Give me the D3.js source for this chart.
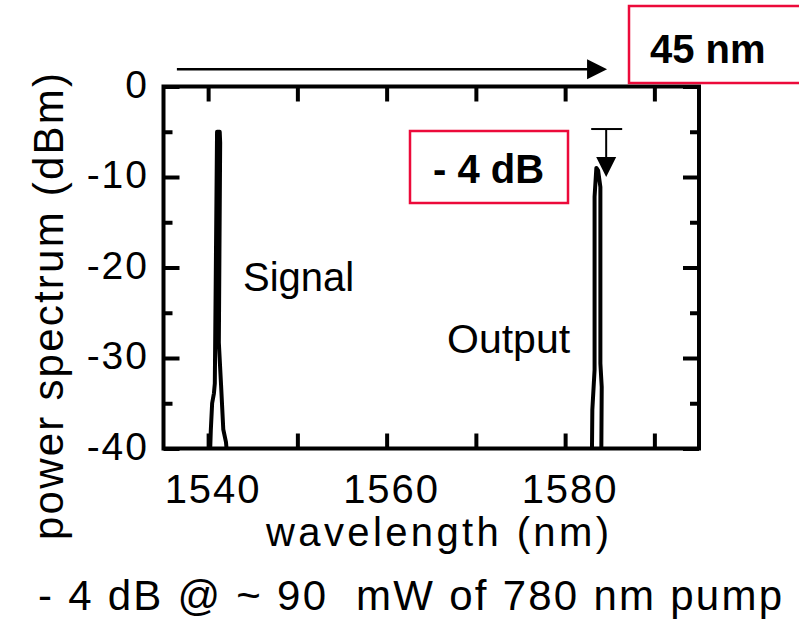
<!DOCTYPE html>
<html>
<head>
<meta charset="utf-8">
<script src="https://cdn.jsdelivr.net/npm/d3@7"></script>
<style>
  body { margin: 0; background: #fff; }
  svg { display: block; font-family: "Liberation Sans", Arial, sans-serif; }
</style>
</head>
<body>
<div id="container"></div>
<script>
// spectrum traces (wavelength nm, power dBm)
var signalWl  = [1540.2, 1540.3, 1540.45, 1540.65, 1540.75, 1541.0, 1541.3, 1541.35, 1541.2, 1541.45, 1541.7, 1542.0, 1542.15];
var signalDbm = [-41, -38, -35, -33.9, -32.8, -5, -5, -6.2, -28.3, -33, -37.9, -39.3, -41];
var outputWl  = [1583.0, 1583.05, 1583.3, 1583.3, 1583.5, 1583.7, 1583.95, 1583.95, 1584.1, 1584.05];
var outputDbm = [-41, -35.7, -31.3, -12.2, -9, -9.3, -11.1, -30.6, -33.2, -41];

var xTicks  = [1540, 1550, 1560, 1570, 1580, 1590];
var xLabels = [1540, 1560, 1580];
var yTicks  = [0, -10, -20, -30, -40];
var yMinor  = [-5, -15, -25, -35];

var red = "#ec0a3a";
var W = 799, H = 621;

var svg = d3.select("#container").append("svg")
            .attr("width", W)
            .attr("height", H);

var x = d3.scaleLinear().domain([1535, 1595]).range([163.5, 699]);
var y = d3.scaleLinear().domain([-40, 0]).range([448.5, 86.5]);

var pL = x.range()[0], pR = x.range()[1];
var pT = y.range()[1], pB = y.range()[0];

// ticks pointing into the frame on all four sides
function tickAxis(axis, size, vals, tx, ty) {
  var g = svg.append("g")
             .attr("transform", "translate(" + tx + "," + ty + ")")
             .call(axis.tickValues(vals).tickSize(size).tickFormat(""));
  g.select(".domain").remove();
  g.selectAll("line").attr("stroke", "#000").attr("stroke-width", 4);
  return g;
}
tickAxis(d3.axisBottom(x), -15, xTicks, 0, pB);
tickAxis(d3.axisTop(x), -15, xTicks, 0, pT);
tickAxis(d3.axisLeft(y), -16, yTicks, pL, 0);
tickAxis(d3.axisLeft(y), -9, yMinor, pL, 0);
tickAxis(d3.axisRight(y), -16, yTicks, pR, 0);
tickAxis(d3.axisRight(y), -9, yMinor, pR, 0);

svg.append("rect")
   .attr("x", pL).attr("y", pT)
   .attr("width", pR - pL).attr("height", pB - pT)
   .attr("fill", "none").attr("stroke", "#000").attr("stroke-width", 4);

// tick labels
svg.selectAll(".xlab")
   .data(xLabels)
   .enter()
   .append("text")
   .attr("x", function(d) { return x(d) + 5; })
   .attr("y", 503)
   .attr("text-anchor", "middle")
   .style("font-size", "40px")
   .style("letter-spacing", "2px")
   .text(function(d) { return d; });

svg.selectAll(".ylab")
   .data(yTicks)
   .enter()
   .append("text")
   .attr("x", 149)
   .attr("y", function(d) { return y(d) + 11; })
   .attr("text-anchor", "end")
   .style("font-size", "39px")
   .style("letter-spacing", "2px")
   .text(function(d) { return d; });

// axis titles
svg.append("text")
   .attr("x", 266).attr("y", 546)
   .attr("textLength", 343).attr("lengthAdjust", "spacing")
   .style("font-size", "40px")
   .text("wavelength (nm)");

svg.append("text")
   .attr("transform", "translate(63,540) rotate(-90)")
   .attr("textLength", 467).attr("lengthAdjust", "spacing")
   .style("font-size", "42px")
   .text("power spectrum (dBm)");

svg.append("text")
   .attr("x", 38).attr("y", 610)
   .attr("textLength", 744).attr("lengthAdjust", "spacing")
   .attr("xml:space", "preserve")
   .style("white-space", "pre")
   .style("font-size", "42px")
   .text("- 4 dB @ ~ 90  mW of 780 nm pump");

// traces
svg.append("clipPath").attr("id", "plot")
   .append("rect")
   .attr("x", pL).attr("y", pT)
   .attr("width", pR - pL).attr("height", pB - pT);

var line = d3.line()
             .x(function(d) { return x(d[0]); })
             .y(function(d) { return y(d[1]); });

[[signalWl, signalDbm], [outputWl, outputDbm]].forEach(function(s) {
  svg.append("path")
     .datum(d3.zip(s[0], s[1]))
     .attr("clip-path", "url(#plot)")
     .attr("fill", "none")
     .attr("stroke", "#000")
     .attr("stroke-width", 4)
     .attr("stroke-linejoin", "round")
     .attr("d", line);
});

// peak labels
svg.append("text").attr("x", 243).attr("y", 291)
   .style("font-size", "40px").text("Signal");
svg.append("text").attr("x", 447).attr("y", 353)
   .style("font-size", "41px").text("Output");

// 45 nm span arrow above the frame
var spanY = y(1.9), spanX0 = x(1536.5), spanX1 = x(1584.7);
svg.append("line")
   .attr("x1", spanX0).attr("x2", spanX1 - 18)
   .attr("y1", spanY).attr("y2", spanY)
   .attr("stroke", "#000").attr("stroke-width", 2.5);
svg.append("path")
   .attr("d", "M" + spanX1 + "," + spanY + "L" + (spanX1 - 20) + "," + (spanY - 10) +
              "L" + (spanX1 - 20) + "," + (spanY + 10) + "Z")
   .attr("fill", "#000");

// -4 dB drop marker
var mX = x(1584.6), mTop = y(-4.7), mTip = y(-10);
svg.append("line")
   .attr("x1", mX - 15).attr("x2", mX + 16)
   .attr("y1", mTop).attr("y2", mTop)
   .attr("stroke", "#000").attr("stroke-width", 2);
svg.append("line")
   .attr("x1", mX).attr("x2", mX)
   .attr("y1", mTop).attr("y2", mTip - 18)
   .attr("stroke", "#000").attr("stroke-width", 2);
svg.append("path")
   .attr("d", "M" + mX + "," + mTip + "L" + (mX - 10) + "," + (mTip - 20) +
              "L" + (mX + 10) + "," + (mTip - 20) + "Z")
   .attr("fill", "#000");

// red callout boxes
svg.append("rect")
   .attr("x", 410).attr("y", 131).attr("width", 158).attr("height", 72)
   .attr("fill", "#fff").attr("stroke", red).attr("stroke-width", 2.5);
svg.append("text").attr("x", 433).attr("y", 183)
   .style("font-size", "40px").style("font-weight", "bold")
   .text("- 4 dB");

svg.append("rect")
   .attr("x", 629).attr("y", 6).attr("width", 180).attr("height", 77)
   .attr("fill", "#fff").attr("stroke", red).attr("stroke-width", 2.5);
svg.append("text").attr("x", 650).attr("y", 63)
   .style("font-size", "40px").style("font-weight", "bold")
   .text("45 nm");
</script>
</body>
</html>
